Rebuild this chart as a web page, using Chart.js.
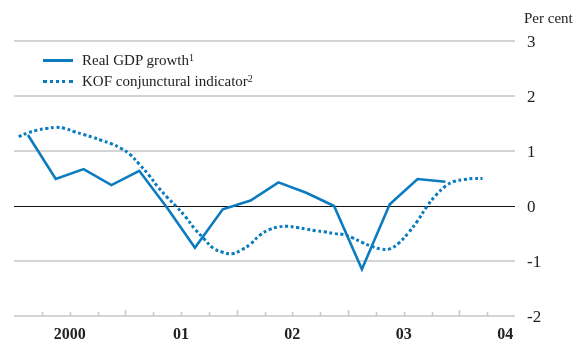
<!DOCTYPE html>
<html lang="en">
<head>
    <meta charset="UTF-8">
    <title>Real GDP growth and KOF indicator</title>
    <style>
        body { margin: 0; background: #fff; }
        .wrap { position: relative; width: 587px; height: 341px; font-family: "Liberation Serif", "DejaVu Serif", serif; color: #222; }
        canvas { position: absolute; left: 0; top: 0; }
        .unit { position: absolute; left: 524px; top: 11px; font-size: 15px; line-height: 15px; }
        .legend { position: absolute; left: 43px; top: 50px; font-size: 15px; line-height: 21px; }
        .legend div { display: flex; align-items: center; }
        .legend span.key { display: inline-block; width: 30px; margin-right: 9px; }
        .legend .solid { border-top: 3px solid #0b7bc0; }
        .legend .dot { border-top: 3px dotted #0b7bc0; }
        .legend sup { font-size: 10px; position: relative; top: -3px; line-height: 0; }
    </style>
</head>
<body>
<div class="wrap">
    <canvas id="chart" width="587" height="341"></canvas>
    <div class="unit">Per cent</div>
    <div class="legend">
        <div><span class="key solid"></span>Real GDP growth<sup>1</sup></div>
        <div><span class="key dot"></span>KOF conjunctural indicator<sup>2</sup></div>
    </div>
</div>

<script src="https://cdn.jsdelivr.net/npm/chart.js"></script>
<script>
    // year labels under the x axis
    const yearLabels = ['2000', '01', '02', '03', '04'];

    // quarterly real GDP growth, 2000 Q1 .. 2003 Q4
    const gdpGrowth = [1.29, 0.49, 0.67, 0.38, 0.64, -0.03, -0.76, -0.06,
                       0.10, 0.43, 0.24, 0.00, -1.15, 0.03, 0.49, 0.44];

    // monthly KOF indicator, Jan 2000 .. Mar 2004
    const kofIndicator = [1.26, 1.33, 1.38, 1.41, 1.43, 1.41, 1.35, 1.30, 1.25, 1.19, 1.13, 1.05,
                          0.94, 0.76, 0.57, 0.35, 0.16, -0.01, -0.20, -0.42, -0.60, -0.77, -0.84, -0.87,
                          -0.80, -0.69, -0.53, -0.43, -0.38, -0.37, -0.39, -0.42, -0.45, -0.47, -0.50, -0.52,
                          -0.58, -0.66, -0.73, -0.78, -0.78, -0.67, -0.49, -0.27, -0.01, 0.20, 0.36, 0.45,
                          0.48, 0.50, 0.50];

    const yTicks = [3, 2, 1, 0, -1, -2];

    const blue = '#0b7bc0';
    const grey = '#d4d4d4';

    // x axis is measured in quarters from the start of 2000
    const gdpPoints = gdpGrowth.map((v, i) => ({ x: i + 0.5, y: v }));
    const kofPoints = kofIndicator.map((v, m) => ({ x: (m + 0.5) / 3, y: v }));

    // small tick marks pointing up from the axis, longer at year boundaries
    const quarterTicks = {
        id: 'quarterTicks',
        beforeDatasetsDraw(chart) {
            const x = chart.scales.x;
            const y = chart.scales.y;
            const base = y.getPixelForValue(-2);
            const ctx = chart.ctx;
            ctx.save();
            ctx.strokeStyle = '#c8c8c8';
            ctx.lineWidth = 1.5;
            for (let q = 1; q < 18; q++) {
                const px = Math.round(x.getPixelForValue(q)) + 0.5;
                const len = q % 4 === 0 ? 6 : 4;
                ctx.beginPath();
                ctx.moveTo(px, base);
                ctx.lineTo(px, base - len);
                ctx.stroke();
            }
            ctx.restore();
        }
    };

    new Chart(document.getElementById('chart'), {
        type: 'line',
        data: {
            datasets: [{
                label: 'KOF conjunctural indicator',
                data: kofPoints,
                borderColor: blue,
                borderWidth: 3,
                borderDash: [3, 2.6],
                pointRadius: 0,
                tension: 0.4,
                fill: false
            }, {
                label: 'Real GDP growth',
                data: gdpPoints,
                borderColor: blue,
                borderWidth: 2.6,
                pointRadius: 0,
                tension: 0,
                fill: false
            }]
        },
        options: {
            responsive: false,
            animation: false,
            layout: { padding: { left: 14, top: 41, right: 0, bottom: 0 } },
            plugins: { legend: { display: false }, tooltip: { enabled: false } },
            scales: {
                x: {
                    type: 'linear',
                    min: 0,
                    max: 18,
                    grid: { display: false, drawTicks: false },
                    border: { display: false },
                    afterBuildTicks: axis => {
                        axis.ticks = yearLabels.map((l, k) => ({ value: Math.min(2 + 4 * k, 17.65) }));
                    },
                    afterFit: axis => { axis.height = 25; },
                    ticks: {
                        autoSkip: false,
                        maxRotation: 0,
                        padding: 9,
                        color: '#222',
                        font: { family: 'Liberation Serif', size: 16, weight: 'bold' },
                        callback: (v, i) => yearLabels[i]
                    }
                },
                y: {
                    position: 'right',
                    min: -2,
                    max: 3,
                    afterBuildTicks: axis => {
                        axis.ticks = yTicks.map(v => ({ value: v }));
                    },
                    afterFit: axis => { axis.width = 72; },
                    grid: {
                        drawTicks: false,
                        color: c => c.tick && c.tick.value === 0 ? '#111' : grey,
                        lineWidth: c => c.tick && c.tick.value === 0 ? 1 : 2
                    },
                    border: { display: false },
                    ticks: {
                        padding: 12,
                        labelOffset: 2,
                        color: '#222',
                        font: { family: 'Liberation Serif', size: 17 },
                        callback: v => String(v)
                    }
                }
            }
        },
        plugins: [quarterTicks]
    });
</script>
</body>
</html>
